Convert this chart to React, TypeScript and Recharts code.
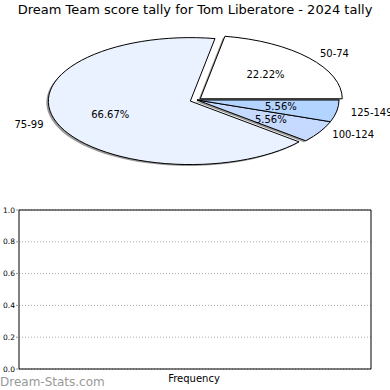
import React from "react";
import {
  PieChart,
  Pie,
  LineChart,
  Line,
  XAxis,
  YAxis,
  CartesianGrid,
} from "recharts";

const scoreRanges = ["50-74", "75-99", "100-124", "125-149"];
const scoreCounts = [4, 12, 1, 1];
const frequencyTicks = [0, 0.2, 0.4, 0.6, 0.8, 1.0];
// the frequency panel is empty in the source: one blank category, no values
const frequencyCategories = [""];

// styling
const sliceColors = ["#ffffff", "#eaf1ff", "#c6d9ff", "#b3d4ff"];
const sliceExplode = [0.03, 0.05, 0, 0];
const FONT = "'DejaVu Sans', sans-serif";
const RX = 142;
const ASPECT = 0.447;
const RAD = Math.PI / 180;

const pieData = scoreRanges.map((name, i) => ({ name, value: scoreCounts[i] }));
const frequencyRows = frequencyCategories.map((name) => ({ name }));

const sliceIndex = (p: any) => {
  const n = p.name ?? p.payload?.name;
  const i = scoreRanges.indexOf(n);
  return i >= 0 ? i : p.index ?? 0;
};

const ellipsePoint = (cx: number, cy: number, r: number, a: number) => [
  cx + r * Math.cos(a * RAD),
  cy - r * ASPECT * Math.sin(a * RAD),
];

const sectorPath = (cx: number, cy: number, r: number, a0: number, a1: number) => {
  const [x0, y0] = ellipsePoint(cx, cy, r, a0);
  const [x1, y1] = ellipsePoint(cx, cy, r, a1);
  const large = Math.abs(a1 - a0) > 180 ? 1 : 0;
  const sweep = a1 > a0 ? 0 : 1;
  return `M${cx},${cy} L${x0},${y0} A${r},${r * ASPECT} 0 ${large} ${sweep} ${x1},${y1} Z`;
};

const shifted = (p: any) => {
  const i = sliceIndex(p);
  const mid = (p.startAngle + p.endAngle) / 2;
  const [x, y] = ellipsePoint(0, 0, p.outerRadius * sliceExplode[i], mid);
  return { i, cx: p.cx + x, cy: p.cy + y };
};

const ShadowSlice = (p: any) => {
  const { cx, cy } = shifted(p);
  return (
    <path
      d={sectorPath(cx - 2, cy + 1.5, p.outerRadius, p.startAngle, p.endAngle)}
      fill="#333"
      fillOpacity={0.5}
      stroke="none"
    />
  );
};

const EllipseSlice = (p: any) => {
  const { i, cx, cy } = shifted(p);
  return (
    <path
      d={sectorPath(cx, cy, p.outerRadius, p.startAngle, p.endAngle)}
      fill={sliceColors[i]}
      stroke="#000"
      strokeWidth={1}
      strokeLinejoin="miter"
    />
  );
};

const renderLabel = (p: any) => {
  const { cx, cy } = shifted(p);
  const mid = p.midAngle ?? (p.startAngle + p.endAngle) / 2;
  const [lx, ly] = ellipsePoint(cx, cy, p.outerRadius * 1.1, mid);
  const [px, py] = ellipsePoint(cx, cy, p.outerRadius * 0.6, mid);
  const left = Math.cos(mid * RAD) >= 0;
  return (
    <g>
      <text
        x={lx}
        y={ly}
        textAnchor={left ? "start" : "end"}
        dominantBaseline="central"
        fontSize={10}
        fontFamily={FONT}
        fill="#000"
      >
        {p.name ?? p.payload?.name}
      </text>
      <text
        x={px}
        y={py}
        textAnchor="middle"
        dominantBaseline="central"
        fontSize={10}
        fontFamily={FONT}
        fill="#000"
      >
        {(p.percent * 100).toFixed(2)}%
      </text>
    </g>
  );
};

export default function App() {
  return (
    <div
      style={{
        position: "absolute",
        left: 0,
        top: 0,
        width: 390,
        height: 390,
        background: "#fff",
        fontFamily: FONT,
        overflow: "hidden",
      }}
    >
      <div
        style={{
          position: "absolute",
          top: 2,
          left: 0,
          width: 390,
          textAlign: "center",
          fontSize: 13,
          lineHeight: "16px",
          color: "#000",
        }}
      >
        Dream Team score tally for Tom Liberatore - 2024 tally
      </div>

      <div style={{ position: "absolute", left: 0, top: 0 }}>
        <PieChart width={390} height={195} margin={{ top: 0, right: 0, bottom: 0, left: 0 }}>
          <Pie
            data={pieData}
            dataKey="value"
            nameKey="name"
            cx={197}
            cy={100}
            outerRadius={RX}
            startAngle={0}
            endAngle={360}
            isAnimationActive={false}
            shape={ShadowSlice}
            activeShape={ShadowSlice}
            inactiveShape={ShadowSlice}
            label={false}
            labelLine={false}
          />
          <Pie
            data={pieData}
            dataKey="value"
            nameKey="name"
            cx={197}
            cy={100}
            outerRadius={RX}
            startAngle={0}
            endAngle={360}
            isAnimationActive={false}
            shape={EllipseSlice}
            activeShape={EllipseSlice}
            inactiveShape={EllipseSlice}
            label={renderLabel}
            labelLine={false}
          />
        </PieChart>
      </div>

      <div style={{ position: "absolute", left: 0, top: 195 }}>
        <LineChart
          width={390}
          height={195}
          data={frequencyRows}
          margin={{ top: 14, right: 19, bottom: 20, left: 18 }}
        >
          <CartesianGrid
            vertical={false}
            yAxisId="left"
            xAxisId="bottom"
            stroke="#aaa"
            strokeDasharray="1 2"
          />
          <XAxis
            xAxisId="bottom"
            dataKey="name"
            height={1}
            tick={false}
            tickLine={false}
            axisLine={{ stroke: "#000" }}
          />
          <XAxis
            xAxisId="top"
            orientation="top"
            dataKey="name"
            height={1}
            tick={false}
            tickLine={false}
            axisLine={{ stroke: "#000" }}
          />
          <YAxis
            yAxisId="left"
            width={1}
            type="number"
            domain={[0, 1]}
            allowDataOverflow
            ticks={frequencyTicks}
            tickFormatter={(v: number) => v.toFixed(1)}
            tick={{ fontSize: 7.5, fill: "#000", fontFamily: FONT }}
            tickLine={{ stroke: "#999" }}
            tickSize={3}
            tickMargin={1}
            axisLine={{ stroke: "#000" }}
          />
          <YAxis
            yAxisId="right"
            orientation="right"
            width={1}
            type="number"
            domain={[0, 1]}
            allowDataOverflow
            ticks={frequencyTicks}
            mirror
            tick={false}
            tickLine={{ stroke: "#999" }}
            tickSize={3}
            axisLine={{ stroke: "#000" }}
          />
          <Line
            xAxisId="bottom"
            yAxisId="left"
            dataKey="frequency"
            stroke="#000"
            dot={false}
            isAnimationActive={false}
          />
          <Line
            xAxisId="top"
            yAxisId="right"
            dataKey="frequency"
            stroke="#000"
            dot={false}
            isAnimationActive={false}
          />
        </LineChart>
      </div>

      <div
        style={{
          position: "absolute",
          left: 0,
          top: 375,
          fontSize: 12,
          color: "#999",
          lineHeight: "14px",
        }}
      >
        Dream-Stats.com
      </div>
      <div
        style={{
          position: "absolute",
          left: 0,
          width: 388,
          top: 372,
          textAlign: "center",
          fontSize: 10,
          lineHeight: "14px",
          color: "#000",
        }}
      >
        Frequency
      </div>
    </div>
  );
}
